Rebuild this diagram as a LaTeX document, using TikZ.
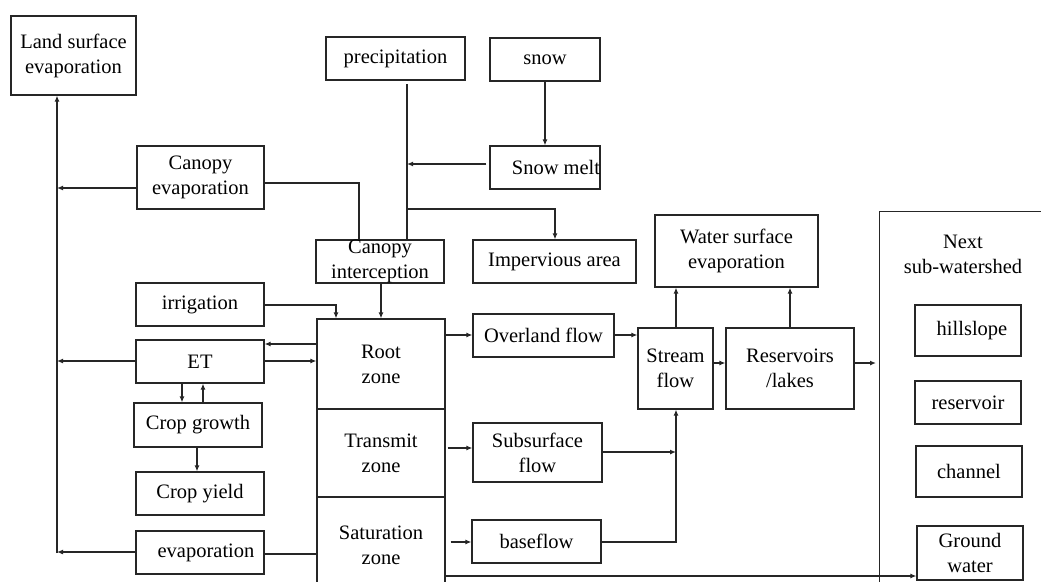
\documentclass[tikz,border=0pt]{standalone}
\usepackage{fontspec}
\setmainfont{Liberation Serif}
\usetikzlibrary{arrows.meta}
\begin{document}
\begin{tikzpicture}[x=1pt,y=-1pt,
  box/.style={draw=black!85, line width=1.2pt, inner sep=0pt, align=center,
    font=\fontsize{20.5}{25}\selectfont},
  txt/.style={inner sep=0pt, align=center, font=\fontsize{20.5}{25}\selectfont},
  ln/.style={draw=black!85, line width=1.2pt},
  arr/.style={ln, -{Latex[length=6pt,width=5pt]}}]
\clip (0,0) rectangle (1041,581);
\fill[white] (0,0) rectangle (1041,581);
% nodes
\node[box, minimum width=125, minimum height=79] (lse) at (73.5,55.5) {Land surface\\evaporation};
\node[box, minimum width=127, minimum height=63] (cevap) at (200.5,177.5) {Canopy\\evaporation};
\node[box, minimum width=139, minimum height=43] (precip) at (395.5,58.5) {precipitation};
\node[box, minimum width=110, minimum height=43] (snow) at (545,59.5) {snow};
\node[box, minimum width=110, minimum height=43,
  label={[txt, xshift=11pt]center:Snow melt}] (melt) at (545,167.5) {};
\node[box, minimum width=128, minimum height=43,
  label={[txt]center:Canopy\\interception}] (cint) at (380,261.5) {};
\node[box, minimum width=163, minimum height=43] (imperv) at (554.5,261.5) {Impervious area};
\node[box, minimum width=128, minimum height=43] (irr) at (200,304.5) {irrigation};
\node[box, minimum width=128, minimum height=90] (root) at (381,364) {Root\\zone};
\node[box, minimum width=128, minimum height=88] (trans) at (381,453) {Transmit\\zone};
\node[box, minimum width=128, minimum height=96] (sat) at (381,545) {Saturation\\zone};
\node[box, minimum width=128, minimum height=43] (et) at (200,361.5) {ET};
\node[box, minimum width=128, minimum height=44] (cropg) at (198,425) {Crop growth};
\node[box, minimum width=128, minimum height=43] (cropy) at (200,493.5) {Crop yield};
\node[box, minimum width=128, minimum height=43] (evap) at (200,552.5) {\hspace*{12pt}evaporation};
\node[box, minimum width=141, minimum height=43] (over) at (543.5,335.5) {Overland flow};
\node[box, minimum width=75, minimum height=81] (stream) at (675.5,368.5) {Stream\\flow};
\node[box, minimum width=163, minimum height=72] (wse) at (736.5,251) {Water surface\\evaporation};
\node[box, minimum width=128, minimum height=81] (res) at (790,368.5) {Reservoirs\\/lakes};
\node[box, minimum width=129, minimum height=59] (subs) at (537.5,452.5) {Subsurface\\flow};
\node[box, minimum width=129, minimum height=43] (base) at (536.5,541.5) {baseflow};
\node[box, anchor=north west, minimum width=181, minimum height=389] (next) at (879,211) {};
\node[txt] (nextlbl) at (963,254) {Next\\sub-watershed};
\node[box, minimum width=106, minimum height=51] (hill) at (968,330.5) {\hspace*{8pt}hillslope};
\node[box, minimum width=106, minimum height=43] (resv) at (968,402.5) {reservoir};
\node[box, minimum width=106, minimum height=51] (chan) at (969,471.5) {channel};
\node[box, minimum width=106, minimum height=54] (gw) at (970,553) {Ground\\water};
% helper coordinates
\coordinate (lv) at (57,553);
\coordinate (cevapc) at (359,183);
\coordinate (pb) at (407,84);
\coordinate (pj) at (407,209);
\coordinate (ij) at (555,209);
\coordinate (irrc) at (336,305);
\coordinate (sj) at (676,542);
\coordinate (nw) at (876,363);
% connectors
\draw[arr] (lv) -- (lv |- lse.south);
\draw[arr] (cevap.west |- 0,188) -- (lv |- 0,188);
\draw[ln] (cevap.east |- cevapc) -- (cevapc) -- (cevapc |- cint.north);
\draw[ln] (pb) -- (pb |- cint.north);
\draw[arr] (pj) -- (ij) -- (ij |- imperv.north);
\draw[arr] (snow.south) -- (melt.north);
\draw[arr] ([xshift=-3pt]melt.west |- 0,164) -- (pb |- 0,164);
\draw[arr] (cint.south -| 381,0) -- (root.north -| 381,0);
\draw[arr] (irr.east |- irrc) -- (irrc) -- (irrc |- root.north);
\draw[arr] (root.west |- 0,344) -- (et.east |- 0,344);
\draw[arr] (et.east |- 0,361) -- (root.west |- 0,361);
\draw[arr] (et.west |- 0,361) -- (lv |- 0,361);
\draw[arr] (et.south -| 182,0) -- (cropg.north -| 182,0);
\draw[arr] (cropg.north -| 203,0) -- (et.south -| 203,0);
\draw[arr] (cropg.south -| 197,0) -- (cropy.north -| 197,0);
\draw[arr] (evap.west |- 0,552) -- (lv |- 0,552);
\draw[ln] (sat.west |- 0,554) -- (evap.east |- 0,554);
\draw[arr] (root.east |- 0,335) -- (over.west |- 0,335);
\draw[arr] (over.east |- 0,335) -- (stream.west |- 0,335);
\draw[arr] (stream.north -| 676,0) -- (wse.south -| 676,0);
\draw[arr] (res.north) -- (wse.south -| res.north);
\draw[arr] (stream.east |- 0,363) -- (res.west |- 0,363);
\draw[arr] (res.east |- 0,363) -- (nw);
\draw[arr] ([xshift=2pt]trans.east |- 0,448) -- (subs.west |- 0,448);
\draw[arr] (subs.east |- 0,452) -- (sj |- 0,452);
\draw[arr] ([xshift=5pt]sat.east |- 0,542) -- (base.west |- 0,542);
\draw[arr] (base.east |- sj) -- (sj) -- (sj |- stream.south);
\draw[arr] (sat.east |- 0,576) -- (gw.west |- 0,576);
\end{tikzpicture}
\end{document}
